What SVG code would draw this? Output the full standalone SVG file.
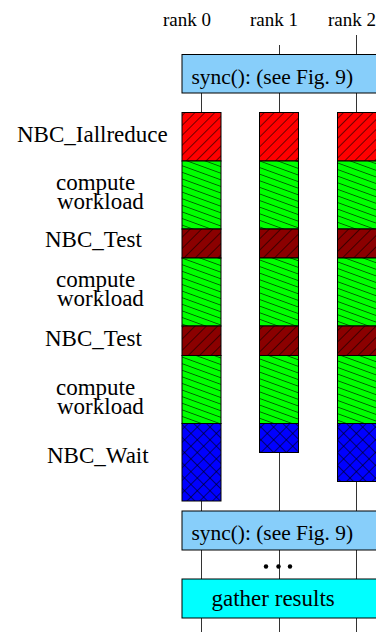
<svg xmlns="http://www.w3.org/2000/svg" width="376" height="632" viewBox="0 0 376 632">
<style>
text{font-family:"Liberation Serif","Times New Roman",serif;fill:#000}
.lbl{font-size:23px}
.rank{font-size:19px}
.box{font-size:21.4px}
.conn{stroke:#333;stroke-width:1;fill:none}
.seg{stroke:#000;stroke-width:1}
.sync{fill:#87CEFA;stroke:#000;stroke-width:1}
.gather{fill:#00FFFF;stroke:#000;stroke-width:1}
.h{stroke:#000;stroke-width:1.1}
</style>
<defs>
<pattern id="pRed" patternUnits="userSpaceOnUse" width="7" height="7" patternTransform="rotate(45)">
<rect width="7" height="7" fill="#FF0000"/><line class="h" x1="0" y1="0" x2="0" y2="7"/>
</pattern>
<pattern id="pDark" patternUnits="userSpaceOnUse" width="8" height="8" patternTransform="rotate(45)">
<rect width="8" height="8" fill="#8B0000"/><line class="h" x1="0" y1="0" x2="0" y2="8"/>
</pattern>
<pattern id="pGreen" patternUnits="userSpaceOnUse" width="10" height="6.2" patternTransform="rotate(20)">
<rect width="10" height="6.2" fill="#00FF00"/><line class="h" x1="0" y1="0" x2="10" y2="0"/>
</pattern>
<pattern id="pBlue" patternUnits="userSpaceOnUse" width="9" height="9" patternTransform="rotate(45)">
<rect width="9" height="9" fill="#0000FF"/><line class="h" x1="0" y1="0" x2="9" y2="0"/><line class="h" x1="0" y1="0" x2="0" y2="9"/>
</pattern>
</defs>

<g id="connectors">
<line class="conn" x1="279.5" y1="45" x2="279.5" y2="54"/>
<line class="conn" x1="356.5" y1="35" x2="356.5" y2="54"/>
<line class="conn" x1="201.5" y1="93" x2="201.5" y2="112"/>
<line class="conn" x1="279.5" y1="93" x2="279.5" y2="112"/>
<line class="conn" x1="356.5" y1="93" x2="356.5" y2="112"/>
<line class="conn" x1="201.5" y1="501" x2="201.5" y2="511"/>
<line class="conn" x1="279.5" y1="452.5" x2="279.5" y2="511"/>
<line class="conn" x1="356.5" y1="481.5" x2="356.5" y2="511"/>
<line class="conn" x1="201.5" y1="550" x2="201.5" y2="579"/>
<line class="conn" x1="279.5" y1="550" x2="279.5" y2="579"/>
<line class="conn" x1="356.5" y1="550" x2="356.5" y2="579"/>
<line class="conn" x1="201.5" y1="618" x2="201.5" y2="632"/>
<line class="conn" x1="279.5" y1="618" x2="279.5" y2="632"/>
<line class="conn" x1="356.5" y1="618" x2="356.5" y2="632"/>
</g>

<g id="rank-labels">
<text class="rank" x="163" y="26">rank 0</text>
<text class="rank" x="250" y="26">rank 1</text>
<text class="rank" x="328" y="26">rank 2</text>
</g>

<g id="sync1">
<rect class="sync" x="182" y="54.5" width="200" height="38.5"/>
<text class="box" x="191.5" y="84">sync(): (see Fig. 9)</text>
</g>

<g id="rank0">
<rect class="seg" x="182" y="112.5" width="39" height="48.5" fill="url(#pRed)"/>
<rect class="seg" x="182" y="161" width="39" height="68" fill="url(#pGreen)"/>
<rect class="seg" x="182" y="229" width="39" height="29" fill="url(#pDark)"/>
<rect class="seg" x="182" y="258" width="39" height="68" fill="url(#pGreen)"/>
<rect class="seg" x="182" y="326" width="39" height="29.5" fill="url(#pDark)"/>
<rect class="seg" x="182" y="355.5" width="39" height="68" fill="url(#pGreen)"/>
<rect class="seg" x="182" y="423.5" width="39" height="77.5" fill="url(#pBlue)"/>
</g>

<g id="rank1">
<rect class="seg" x="259.5" y="112.5" width="39" height="48.5" fill="url(#pRed)"/>
<rect class="seg" x="259.5" y="161" width="39" height="68" fill="url(#pGreen)"/>
<rect class="seg" x="259.5" y="229" width="39" height="29" fill="url(#pDark)"/>
<rect class="seg" x="259.5" y="258" width="39" height="68" fill="url(#pGreen)"/>
<rect class="seg" x="259.5" y="326" width="39" height="29.5" fill="url(#pDark)"/>
<rect class="seg" x="259.5" y="355.5" width="39" height="68" fill="url(#pGreen)"/>
<rect class="seg" x="259.5" y="423.5" width="39" height="29" fill="url(#pBlue)"/>
</g>

<g id="rank2">
<rect class="seg" x="337.5" y="112.5" width="39" height="48.5" fill="url(#pRed)"/>
<rect class="seg" x="337.5" y="161" width="39" height="68" fill="url(#pGreen)"/>
<rect class="seg" x="337.5" y="229" width="39" height="29" fill="url(#pDark)"/>
<rect class="seg" x="337.5" y="258" width="39" height="68" fill="url(#pGreen)"/>
<rect class="seg" x="337.5" y="326" width="39" height="29.5" fill="url(#pDark)"/>
<rect class="seg" x="337.5" y="355.5" width="39" height="68" fill="url(#pGreen)"/>
<rect class="seg" x="337.5" y="423.5" width="39" height="58" fill="url(#pBlue)"/>
</g>

<g id="phase-labels">
<text class="lbl" x="17" y="142">NBC_Iallreduce</text>
<text class="lbl" x="56" y="190">compute</text>
<text class="lbl" x="57" y="209">workload</text>
<text class="lbl" x="45" y="247">NBC_Test</text>
<text class="lbl" x="56" y="287">compute</text>
<text class="lbl" x="57" y="306">workload</text>
<text class="lbl" x="45" y="346">NBC_Test</text>
<text class="lbl" x="56" y="395">compute</text>
<text class="lbl" x="57" y="414">workload</text>
<text class="lbl" x="47" y="463">NBC_Wait</text>
</g>

<g id="sync2">
<rect class="sync" x="182" y="511" width="200" height="39"/>
<text class="box" x="191.5" y="540">sync(): (see Fig. 9)</text>
</g>

<g id="ellipsis">
<circle cx="266" cy="566.5" r="2.2"/>
<circle cx="278.5" cy="566.5" r="2.2"/>
<circle cx="290" cy="566.5" r="2.2"/>
</g>

<g id="gather">
<rect class="gather" x="182" y="579" width="200" height="39"/>
<text class="box" x="211.5" y="606" style="font-size:23px">gather results</text>
</g>
</svg>
